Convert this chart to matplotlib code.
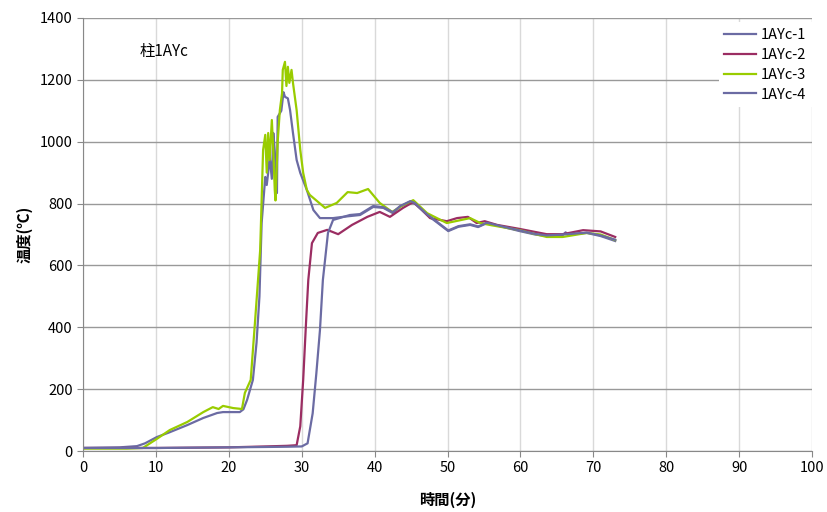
import matplotlib.pyplot as plt

plt.rcParams['font.family'] = ['Noto Sans CJK JP', 'DejaVu Sans']

# series data (time in minutes, temperature in deg C)
x1 = [0, 5, 7.4, 8.5, 10.1, 11.9, 14.3, 16.5, 18.4, 19.2, 21.5, 22.0, 22.5, 23.3, 23.8, 24.2,
      24.5, 25.0, 25.2, 25.4, 25.6, 25.9, 26.1, 26.3, 26.6, 26.7, 27.2, 27.5, 27.7, 28.1, 28.4,
      28.8, 29.3, 29.8, 30.7, 31.6, 32.5, 34.3, 36.0, 38.0, 39.8, 41.2, 42.5, 43.5, 44.9, 45.5,
      47.2, 48.5, 50.1, 51.5, 53.1, 54.2, 55.4, 57.5, 59.9, 62.0, 63.6, 65.8, 66.2, 66.5, 69.1,
      71, 73]
y1 = [10, 12, 16, 25, 45, 61, 84, 107, 123, 126, 126, 135, 165, 230, 350, 500,
      737, 886, 860, 900, 950, 880, 1028, 970, 834, 1080, 1100, 1160, 1145, 1140, 1102,
      1028, 941, 899, 844, 779, 753, 753, 758, 763, 789, 786, 769, 790, 805, 800,
      763, 740, 711, 725, 731, 724, 737, 725, 711, 700, 695, 698, 707, 700, 705,
      695, 679]

x2 = [0, 10, 20, 25, 28, 29.3, 29.8, 30.2, 30.6, 30.9, 31.4, 32.2, 33.5, 35.0, 36.9, 39.0,
      40.7, 42.1, 43.9, 45.3, 46.5, 47.6, 49.9, 51.3, 52.8, 54.0, 55.1, 56.8, 59.9, 63.6,
      65.8, 68.6, 71, 73]
y2 = [10, 10, 12, 15, 17, 19, 80, 230, 420, 553, 672, 705, 715, 701, 731, 757,
      773, 757, 786, 805, 780, 753, 743, 753, 757, 737, 743, 731, 718, 701,
      701, 714, 710, 692]

x3 = [0, 6, 8.2, 10.1, 11.9, 14.3, 16.5, 17.8, 18.6, 19.2, 20.6, 21.8, 22.2, 23.0, 23.6,
      24.3, 24.7, 25.0, 25.2, 25.4, 25.6, 25.9, 26.1, 26.3, 26.4, 26.7, 27.0, 27.3, 27.4,
      27.7, 27.9, 28.1, 28.3, 28.6, 28.8, 29.3, 29.8, 30.2, 30.7, 31.1, 33.2, 34.8, 36.3,
      37.6, 39.1, 40.7, 42.4, 43.9, 45.3, 47.2, 49.9, 53.1, 54.5, 56, 59.9, 63.6, 65.8,
      69.1, 71, 73]
y3 = [8, 8, 10, 39, 68, 94, 126, 142, 136, 146, 139, 136, 188, 230, 420,
      650, 973, 1022, 900, 1028, 941, 1070, 970, 844, 810, 1000, 1102, 1157, 1232,
      1258, 1180, 1242, 1190, 1232, 1190, 1102, 973, 899, 844, 828, 786, 802, 837,
      834, 847, 802, 773, 795, 811, 769, 737, 753, 737, 730, 714, 692, 692,
      705, 700, 682]

x4 = [0, 10, 20, 28, 30, 30.8, 31.5, 32.0, 32.5, 32.9, 33.6, 34.3, 36.6, 38.0, 39.8, 41.2,
      42.5, 43.5, 44.9, 45.5, 47.2, 48.5, 50.1, 51.5, 53.1, 54.2, 55.4, 57.5, 59.9, 62.0,
      63.6, 65.8, 69.1, 71, 73]
y4 = [10, 10, 12, 14, 15, 25, 122, 250, 391, 553, 705, 747, 763, 766, 792, 788,
      772, 792, 808, 802, 765, 742, 713, 727, 733, 726, 738, 726, 713, 702,
      697, 700, 706, 697, 683]

labels = ["1AYc-1", "1AYc-2", "1AYc-3", "1AYc-4"]
colors = ["#6b6ba3", "#9b2d62", "#99cc00", "#6b6ba3"]

fig = plt.figure(figsize=(8.27, 5.12), dpi=100)
ax = fig.add_axes([0.1004, 0.119, 0.8815, 0.846])

for xs, ys, lab, c in zip([x1, x2, x3, x4], [y1, y2, y3, y4], labels, colors):
  ax.plot(xs, ys, color = c, lw = 1.6, label = lab)

# Format plot
ax.set_xlim(0, 100)
ax.set_ylim(0, 1400)
ax.set_xticks(range(0, 101, 10))
ax.set_yticks(range(0, 1401, 200))
ax.tick_params(labelsize = 10.5, colors = "#888888", labelcolor = "black", length = 4)
ax.yaxis.grid(True, color = "#999999", lw = 1)
ax.xaxis.grid(True, color = "#d9d9d9", lw = 1)
ax.set_axisbelow(True)
for s in ["top", "right"]:
  ax.spines[s].set_visible(False)
for s in ["left", "bottom"]:
  ax.spines[s].set_color("#888888")

ax.set_xlabel("時間(分)", fontsize = 11, fontweight = "bold", labelpad = 12)
ax.set_ylabel("温度(℃)", fontsize = 11, fontweight = "bold", labelpad = 5)
ax.text(7.8, 1290, "柱1AYc", fontsize = 11, va = "center")

leg = ax.legend(loc = "upper right", bbox_to_anchor = (1.0, 0.99), fontsize = 10.5,
                handlelength = 2.2, handletextpad = 0.3, labelspacing = 0.4,
                frameon = True, fancybox = False, borderaxespad = 0.0)
leg.get_frame().set_facecolor("white")
leg.get_frame().set_edgecolor("none")
leg.get_frame().set_alpha(1)

fig.savefig("out.png", dpi = 100)
